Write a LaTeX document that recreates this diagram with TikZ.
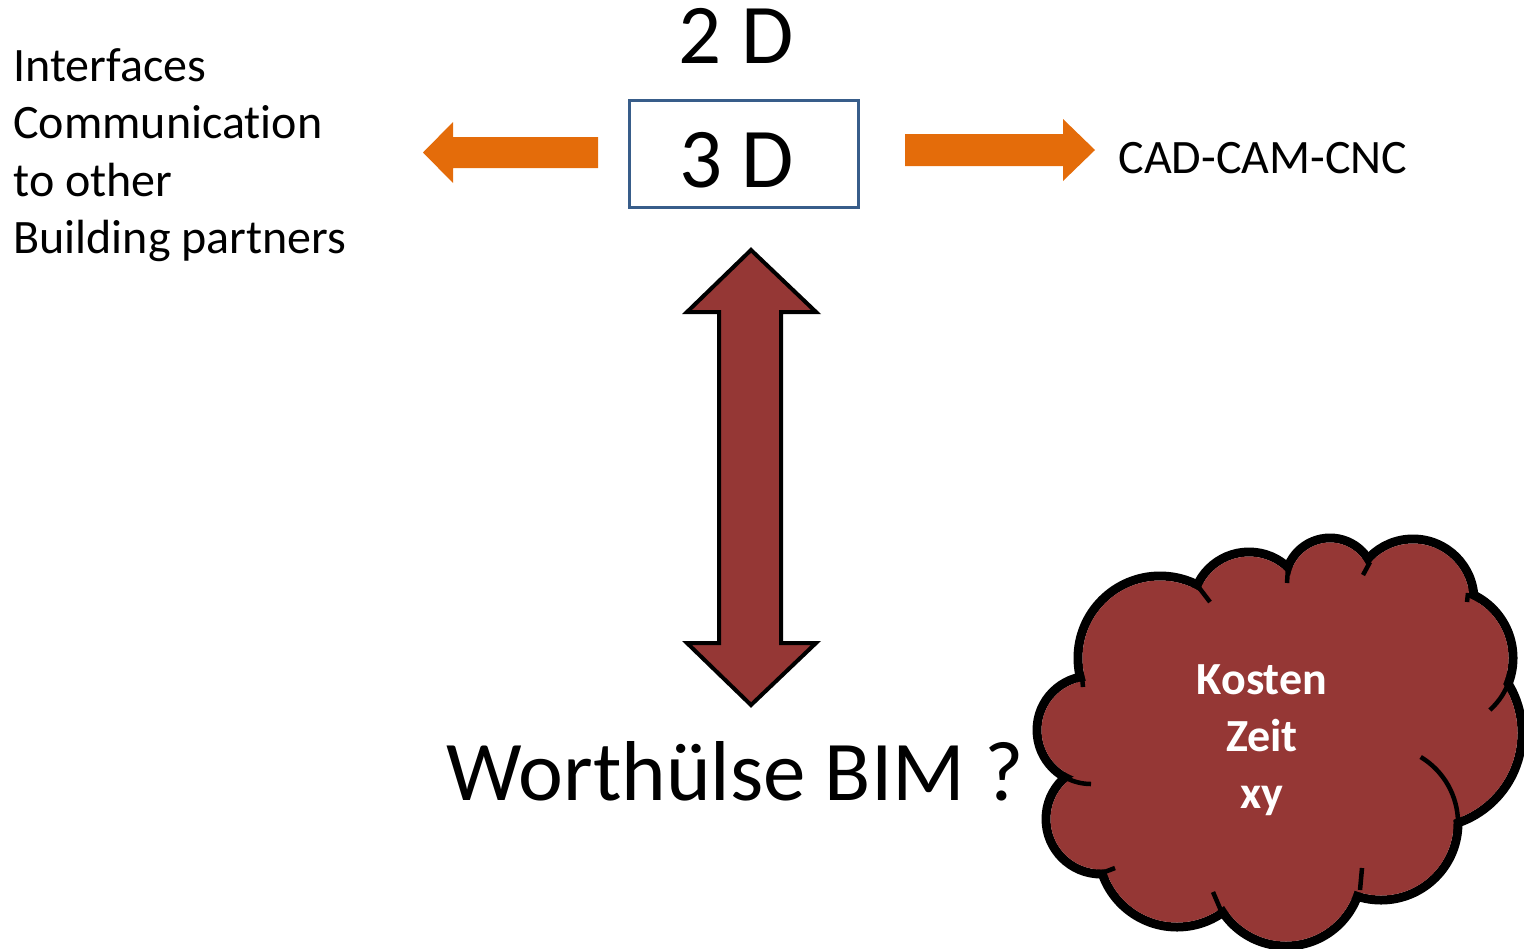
\documentclass[tikz,border=0pt]{standalone}
\usepackage{fontspec}
\setmainfont{Carlito}[Ligatures=NoCommon]
\definecolor{arroworange}{RGB}{228,108,10}
\definecolor{bimred}{RGB}{149,55,53}
\definecolor{boxblue}{RGB}{56,93,138}

\begin{document}
\begin{tikzpicture}[x=0.5pt, y=-0.5pt,
	plain/.style={inner sep=0pt, font=\fontsize{24}{28.75}\selectfont, align=left},
	big/.style={inner sep=0pt, font=\fontsize{42.5}{50}\selectfont},
	model/.style={draw=boxblue, line width=1.5pt, minimum width=114.5pt, minimum height=53.5pt, inner sep=0pt, text height=33.5pt, text depth=0pt, font=\fontsize{42.5}{50}\selectfont},
	flat/.style={fill=arroworange},
	block/.style={fill=bimred, draw=black, line width=2pt, line join=miter},
	puff/.style={draw=black, line width=4.5pt},
	tick/.style={draw=black, line width=2.25pt}]
	\useasboundingbox (0,0) rectangle (1524,948);

	\node[plain, anchor=north west] (ifc) at (13,48) {Interfaces\\Communication\\to other\\Building partners};
	\node[big, anchor=base] (twoD) at (736,63) {2 D};
	\node[model] (threeD) at (743.5,153.5) {3 D\kern7pt};
	\node[plain, anchor=base west] (cad) at (1118,173) {CAD-CAM-CNC};
	\node[big, anchor=base west] (bim) at (446,800) {Worthülse BIM ?};

	% block arrows
	\fill[flat] (423,152.5) -- (453,122) -- (453,137) -- (598,137) -- (598,168) -- (453,168) -- (453,183) -- cycle;
	\fill[flat] (1095,150) -- (1063,119) -- (1063,134) -- (905,134) -- (905,166) -- (1063,166) -- (1063,181) -- cycle;
	\draw[block] (751,250) -- (816,312) -- (781,312) -- (781,643) -- (816,643) -- (751,705) -- (687,643) -- (719,643) -- (719,312) -- (687,312) -- cycle;

	% cloud: outlined circles, then filled again a little smaller
	\foreach \cx/\cy/\r in {1160/658/82, 1249/609/57, 1330/583/45, 1413/600/61, 1443/658/70, 1427/733/95, 1381/823/77, 1286/870/76, 1177/848/79, 1101/819/55, 1091/730/54}
		\draw[puff] (\cx,\cy) circle[radius=\r];
	\fill[bimred] (1160,658) -- (1249,609) -- (1330,583) -- (1413,600) -- (1443,658) -- (1427,733) -- (1381,823) -- (1286,870) -- (1177,848) -- (1101,819) -- (1091,730) -- cycle;
	\foreach \cx/\cy/\r in {1160/658/82, 1249/609/57, 1330/583/45, 1413/600/61, 1443/658/70, 1427/733/95, 1381/823/77, 1286/870/76, 1177/848/79, 1101/819/55, 1091/730/54}
		\fill[bimred] (\cx,\cy) circle[radius=\r-4.5];
	\draw[tick] (1197,585) -- (1210,602);
	\draw[tick] (1288,567) -- (1287,583);
	\draw[tick] (1370,562) -- (1363,575);
	\draw[tick] (1468,593) -- (1467,602);
	\draw[tick] (1443,658) ++(23:70) arc[start angle=23, end angle=48, radius=70];
	\draw[tick] (1381,823) ++(-59:77) arc[start angle=-59, end angle=0, radius=77];
	\draw[tick] (1362,868) -- (1360,890);
	\draw[tick] (1213,892) -- (1222,913);
	\draw[tick] (1102,873) -- (1115,868);
	\draw[tick] (1091,730) ++(90:54) arc[start angle=90, end angle=118, radius=54];
	\draw[tick] (1082,677) -- (1083,687);
	\node[inner sep=0pt, align=center, text=white, font=\bfseries\fontsize{23}{28.5}\selectfont] (cost) at (1262,740) {Kosten\\Zeit\\xy};
\end{tikzpicture}
\end{document}
